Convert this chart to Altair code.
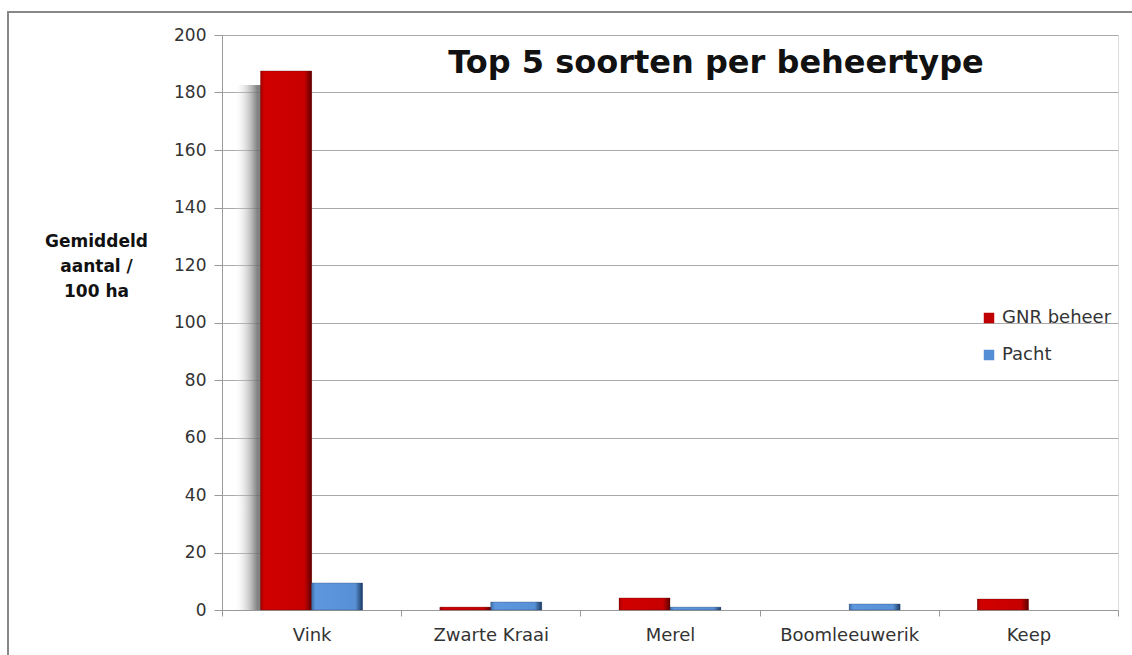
import altair as alt
import pandas as pd

categories = ["Vink", "Zwarte Kraai", "Merel", "Boomleeuwerik", "Keep"]
series = ["GNR beheer", "Pacht"]
gnr_values = [187.5, 1.0, 4.2, 0.0, 3.8]
pacht_values = [9.4, 2.8, 1.0, 2.1, 0.0]
y_ticks = [0, 20, 40, 60, 80, 100, 120, 140, 160, 180, 200]

rows = []
for c, g, p in zip(categories, gnr_values, pacht_values):
    rows.append({"soort": c, "beheer": series[0], "waarde": g})
    rows.append({"soort": c, "beheer": series[1], "waarde": p})
df = pd.DataFrame(rows)

W, H = 896, 575
FONT = "DejaVu Sans"

x_enc = alt.X("soort:N", sort=categories,
              scale=alt.Scale(domain=categories, paddingInner=0, paddingOuter=0),
              axis=alt.Axis(title=None, tickBand="extent", labelAngle=0,
                            labelFontSize=18, labelColor="#333", labelFont=FONT,
                            labelPadding=10, tickColor="#999", tickSize=6,
                            domainColor="#999", grid=False))
y_enc = alt.Y("waarde:Q", scale=alt.Scale(domain=[0, 200], nice=False),
              axis=alt.Axis(values=y_ticks, title=["Gemiddeld", "aantal /", "100 ha"],
                            titleAngle=0, titleAlign="center", titleBaseline="alphabetic",
                            titleX=-126, titleY=211, titleFontSize=17,
                            titleFontWeight="bold", titleFont=FONT, titleLineHeight=25,
                            titleColor="#111",
                            labelFontSize=17, labelColor="#333", labelFont=FONT,
                            labelPadding=8, tickSize=8, tickColor="#999",
                            domainColor="#999", gridColor="#aaa"))
xoff_enc = alt.XOffset("beheer:N", sort=series,
                       scale=alt.Scale(domain=series, paddingInner=0, paddingOuter=0.76))

def grad(stops):
    return alt.Gradient(gradient="linear", x1=0, x2=1, y1=0, y2=0,
                        stops=[alt.GradientStop(color=c, offset=o) for o, c in stops])

red_grad = grad([(0, "#a80000"), (0.08, "#d20000"), (0.86, "#c60000"), (1, "#5e0000")])
blue_grad = grad([(0, "#3f70aa"), (0.08, "#5e97de"), (0.86, "#5890d6"), (1, "#1d3a60")])
shadow_grad = grad([(0, "rgba(255,255,255,0)"), (0.45, "rgba(110,110,110,0.85)"),
                    (1, "rgba(80,80,80,0.95)")])

base = alt.Chart(df).transform_filter("datum.waarde > 0")

shadow = alt.Chart(df).transform_filter(
    (alt.datum.waarde > 20) & (alt.datum.beheer == series[0])).mark_bar(
    color=shadow_grad, width=51, xOffset=-52, yOffset=14, clip=True).encode(
    x=x_enc, y=y_enc)

bars = base.mark_bar().encode(
    x=x_enc,
    xOffset=xoff_enc,
    y=y_enc,
    color=alt.Color("beheer:N", sort=series,
                    scale=alt.Scale(domain=series, range=["#c00000", "#558ed5"]),
                    legend=alt.Legend(title=None, orient="none", legendX=758, legendY=274,
                                      symbolType="square", symbolSize=110,
                                      symbolStrokeWidth=0,
                                      labelFontSize=18, labelColor="#333",
                                      labelFont=FONT, rowPadding=19, labelOffset=4)),
)

red_bars = base.transform_filter(alt.datum.beheer == series[0]).mark_bar(
    color=red_grad, stroke="#500000", strokeWidth=0.5, strokeOpacity=0.6).encode(
    x=x_enc, xOffset=xoff_enc, y=y_enc)
blue_bars = base.transform_filter(alt.datum.beheer == series[1]).mark_bar(
    color=blue_grad, stroke="#1d3a60", strokeWidth=0.5, strokeOpacity=0.6).encode(
    x=x_enc, xOffset=xoff_enc, y=y_enc)

title = alt.Chart(pd.DataFrame({"t": ["Top 5 soorten per beheertype"]})).mark_text(
    fontSize=32, fontWeight="bold", font=FONT, color="#111", align="center",
    baseline="middle").encode(x=alt.value(494), y=alt.value(28), text="t:N")

frame = alt.Chart(pd.DataFrame({"a": [0]})).mark_rect(
    fill=None, stroke="#888", strokeWidth=2, clip=False).encode(
    x=alt.value(-214), x2=alt.value(1140), y=alt.value(-23), y2=alt.value(700))

chart = alt.layer(frame, shadow, bars, red_bars, blue_bars, title).properties(
    width=W, height=H,
    autosize=alt.AutoSizeParams(type="none"),
    padding={"left": 222, "top": 35, "right": 14, "bottom": 45},
).configure_view(stroke=None).configure(background="white")

chart.save("out.html", embed_options={"renderer": "svg", "actions": False})
